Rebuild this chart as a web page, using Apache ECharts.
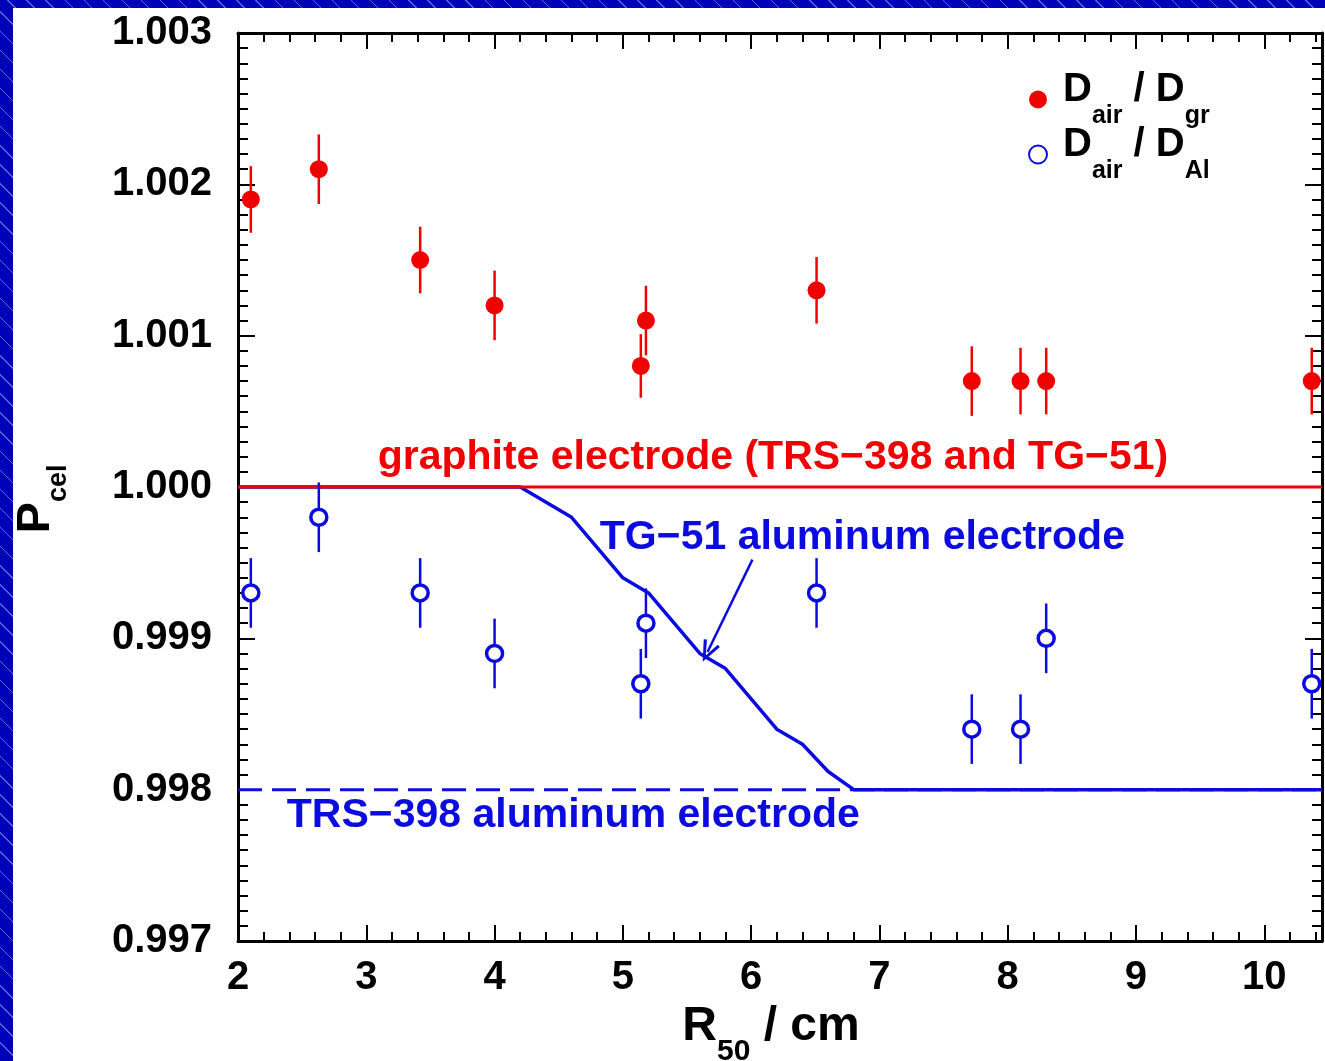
<!DOCTYPE html>
<html>
<head>
<meta charset="utf-8">
<script src="https://cdn.jsdelivr.net/npm/echarts@6/dist/echarts.min.js"></script>
<style>
  html, body {
    margin: 0;
    padding: 0;
    width: 1325px;
    height: 1061px;
    overflow: hidden;
    background-color: #0000b8;
    background-image: repeating-linear-gradient(45deg, #0000b8 0px, #0000b8 12.5px, #5068d8 12.5px, #5068d8 13.5px);
  }
  #main {
    position: absolute;
    left: 13px;
    top: 8px;
    width: 1312px;
    height: 1053px;
    background: #fff;
  }
</style>
</head>
<body>
<div id="main"></div>
<script>
// R50 (cm) of the measured beams
var r50 = [2.1, 2.63, 3.42, 4.0, 5.14, 5.18, 6.51, 7.72, 8.1, 8.3, 10.37];
// D_air / D_gr and its uncertainty
var grRatio = [1.0019, 1.0021, 1.0015, 1.0012, 1.0008, 1.0011, 1.0013, 1.0007, 1.0007, 1.0007, 1.0007];
var grErr = [0.00022, 0.00023, 0.00022, 0.00023, 0.00021, 0.00023, 0.00022, 0.00023, 0.00022, 0.00022, 0.00022];
// D_air / D_Al and its uncertainty
var alRatio = [0.9993, 0.9998, 0.9993, 0.9989, 0.9987, 0.9991, 0.9993, 0.9984, 0.9984, 0.9990, 0.9987];
var alErr = [0.00023, 0.00023, 0.00023, 0.00023, 0.00023, 0.00023, 0.00023, 0.00023, 0.00023, 0.00023, 0.00023];
// TG-51 aluminum electrode curve
var tg51X = [2, 4.2, 4.6, 5.0, 5.2, 5.6, 5.8, 6.2, 6.4, 6.6, 6.8, 10.45];
var tg51Y = [1.0, 1.0, 0.9998, 0.9994, 0.9993, 0.9989, 0.9988, 0.9984, 0.9983, 0.99812, 0.998, 0.998];
// constant corrections
var graphiteX = [2, 10.45];
var graphiteY = [1.0, 1.0];
var trsX = [2, 10.45];
var trsY = [0.998, 0.998];
// axis ranges
var xMin = 2, xMax = 10.45, xStep = 1;
var yMin = 0.997, yMax = 1.003, yStep = 0.001;

var RED = "#f00000";
var BLUE = "#0b0be0";
var FONT = "'Liberation Sans', Arial, sans-serif";

function pairs(xs, ys) {
  return xs.map(function (x, i) { return [x, ys[i]]; });
}
function triples(xs, ys, es) {
  return xs.map(function (x, i) { return [x, ys[i], es[i]]; });
}
function errorBar(color) {
  return function (params, api) {
    var x = api.value(0), y = api.value(1), e = api.value(2);
    var p1 = api.coord([x, y + e]);
    var p2 = api.coord([x, y - e]);
    return {
      type: "line",
      shape: { x1: p1[0], y1: p1[1], x2: p2[0], y2: p2[1] },
      style: { stroke: color, lineWidth: 2.5 }
    };
  };
}

function xAxisDef(pos) {
  return {
    type: "value",
    position: pos,
    min: xMin,
    max: xMax,
    interval: xStep,
    axisLine: { show: true, onZero: false, lineStyle: { color: "#000", width: 3 } },
    axisTick: { show: true, inside: true, length: 16, lineStyle: { color: "#000", width: 2 } },
    minorTick: { show: true, splitNumber: 5, length: 9, lineStyle: { color: "#000", width: 2 } },
    splitLine: { show: false },
    axisLabel: {
      show: pos === "bottom",
      margin: 17,
      color: "#000",
      fontFamily: FONT,
      fontWeight: "bold",
      fontSize: 40,
      formatter: function (v) {
        return Math.abs(v - Math.round(v)) < 1e-6 ? String(Math.round(v)) : "";
      }
    }
  };
}
function yAxisDef(pos) {
  return {
    type: "value",
    position: pos,
    min: yMin,
    max: yMax,
    interval: yStep,
    axisLine: { show: true, onZero: false, lineStyle: { color: "#000", width: 3 } },
    axisTick: { show: true, inside: true, length: 17, lineStyle: { color: "#000", width: 2 } },
    minorTick: { show: true, splitNumber: 10, length: 10, lineStyle: { color: "#000", width: 2 } },
    splitLine: { show: false },
    axisLabel: {
      show: pos === "left",
      margin: 26,
      color: "#000",
      fontFamily: FONT,
      fontWeight: "bold",
      fontSize: 40,
      formatter: function (v) { return v.toFixed(3); }
    }
  };
}

// subscript: big token pinned to the top, small token pushed down by top padding
var xBottom = xAxisDef("bottom");
xBottom.name = "{m|R}{s|50}{e| / cm}";
xBottom.nameLocation = "middle";
xBottom.nameGap = 62;
xBottom.nameTextStyle = {
  color: "#000",
  rich: {
    m: { fontFamily: FONT, fontWeight: "bold", fontSize: 48, lineHeight: 48, verticalAlign: "top", color: "#000" },
    e: { fontFamily: FONT, fontWeight: "bold", fontSize: 48, lineHeight: 48, verticalAlign: "top", padding: [0, 18, 0, 0], color: "#000" },
    s: { fontFamily: FONT, fontWeight: "bold", fontSize: 30, padding: [34, 0, 0, 0], color: "#000" }
  }
};
var yLeft = yAxisDef("left");
yLeft.name = "{m|P}{s|cel}";
yLeft.nameLocation = "middle";
yLeft.nameRotate = 90;
yLeft.nameGap = 166;
yLeft.nameTextStyle = {
  color: "#000",
  rich: {
    m: { fontFamily: FONT, fontWeight: "bold", fontSize: 47, lineHeight: 47, verticalAlign: "top", color: "#000" },
    s: { fontFamily: FONT, fontWeight: "bold", fontSize: 27, padding: [32, 24, 0, 0], color: "#000" }
  }
};

var legendRich = {
  f: { fontFamily: FONT, fontWeight: "bold", fontSize: 40, lineHeight: 40, verticalAlign: "top", padding: [0, 0, 0, 11], color: "#000" },
  m: { fontFamily: FONT, fontWeight: "bold", fontSize: 40, lineHeight: 40, verticalAlign: "top", color: "#000" },
  s: { fontFamily: FONT, fontWeight: "bold", fontSize: 25, padding: [34, 0, 0, 0], color: "#000" }
};

var myChart = echarts.init(document.getElementById("main"));
var option = {
  animation: false,
  backgroundColor: "#fff",
  grid: { left: 225, right: 3, top: 25, bottom: 120, containLabel: false, outerBoundsMode: "none" },
  xAxis: [xBottom, xAxisDef("top")],
  yAxis: [yLeft, yAxisDef("right")],
  legend: {
    orient: "vertical",
    left: 1015,
    top: 62,
    padding: 0,
    itemGap: -4,
    itemWidth: 18,
    itemHeight: 18,
    data: ["gr", "Al"],
    formatter: function (name) {
      return "{f|D}{s|air}{m| / D}{s|" + name + "}";
    },
    textStyle: { rich: legendRich }
  },
  series: [
    {
      name: "TRS-398",
      type: "line",
      data: pairs(trsX, trsY),
      symbol: "none",
      lineStyle: { color: BLUE, width: 3, type: [24, 10] },
      z: 2
    },
    {
      name: "TG-51",
      type: "line",
      data: pairs(tg51X, tg51Y),
      symbol: "none",
      lineStyle: { color: BLUE, width: 3.5 },
      z: 2,
      markLine: {
        silent: true,
        symbol: ["none", "path://M0,0 L-6,15 L-4,15.8 L0,5 L4,15.8 L6,15 Z"],
        symbolSize: [18, 22],
        label: { show: false },
        lineStyle: { color: BLUE, width: 2.5, type: "solid" },
        data: [[{ coord: [6.01, 0.99952] }, { coord: [5.66, 0.99891] }]]
      }
    },
    {
      name: "graphite",
      type: "line",
      data: pairs(graphiteX, graphiteY),
      symbol: "none",
      lineStyle: { color: RED, width: 3 },
      z: 3
    },
    {
      name: "grErr",
      type: "custom",
      renderItem: errorBar(RED),
      data: triples(r50, grRatio, grErr),
      z: 4
    },
    {
      name: "AlErr",
      type: "custom",
      renderItem: errorBar(BLUE),
      data: triples(r50, alRatio, alErr),
      z: 4
    },
    {
      name: "gr",
      type: "scatter",
      data: pairs(r50, grRatio),
      symbol: "circle",
      symbolSize: 18,
      itemStyle: { color: RED, opacity: 1 },
      z: 5
    },
    {
      name: "Al",
      type: "scatter",
      data: pairs(r50, alRatio),
      symbol: "circle",
      symbolSize: 16,
      itemStyle: { color: "#fff", borderColor: BLUE, borderWidth: 3.5, opacity: 1 },
      z: 5
    }
  ]
};
myChart.setOption(option);

// annotation texts, anchored in data coordinates
var notes = [
  { text: "graphite electrode (TRS\u2212398 and TG\u221251)", at: [6.17, 1.000192], color: RED, align: "center" },
  { text: "TG\u221251 aluminum electrode", at: [4.82, 0.999663], color: BLUE, align: "left" },
  { text: "TRS\u2212398 aluminum electrode", at: [2.38, 0.997826], color: BLUE, align: "left" }
];
myChart.setOption({
  graphic: notes.map(function (n) {
    var p = myChart.convertToPixel({ gridIndex: 0 }, n.at);
    return {
      type: "text",
      x: p[0],
      y: p[1],
      z: 10,
      style: {
        text: n.text,
        fill: n.color,
        font: "bold 41px " + FONT,
        align: n.align,
        verticalAlign: "middle"
      }
    };
  })
});
</script>
</body>
</html>
